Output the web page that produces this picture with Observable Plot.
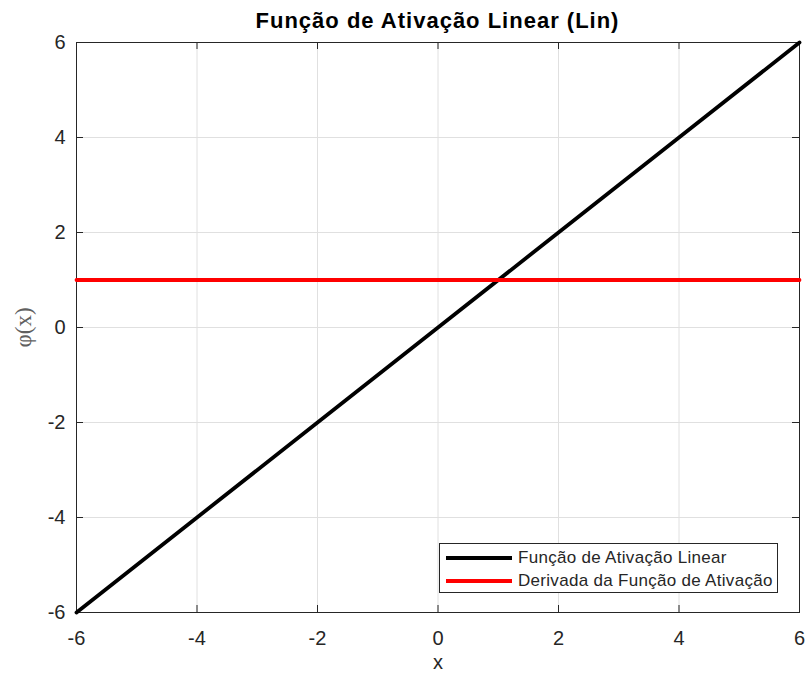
<!DOCTYPE html>
<html>
<head>
<meta charset="utf-8">
<script src="https://cdn.jsdelivr.net/npm/d3@7"></script>
<script src="https://cdn.jsdelivr.net/npm/@observablehq/plot@0.6"></script>
<style>
  html, body { margin: 0; padding: 0; background: #fff; }
  #wrap { position: relative; width: 808px; height: 677px; font-family: "Liberation Sans", Arial, sans-serif; }
  #title { position: absolute; left: 76px; width: 723px; top: 8px; text-align: center;
           font-size: 22px; font-weight: bold; letter-spacing: 1px; color: #000; line-height: 26px; }
  #legend { position: absolute; left: 439px; top: 543px; width: 339px; height: 50px;
            border: 1px solid #262626; background: #fff; box-sizing: border-box; }
  .row { position: absolute; left: 0; height: 22px; display: flex; align-items: center;
         font-size: 17px; letter-spacing: 0.3px; color: #262626; white-space: nowrap; }
  .swatch { width: 66px; height: 4px; margin-left: 6px; margin-right: 6px; }
</style>
</head>
<body>
<div id="wrap">
  <div id="title"></div>
  <div id="chart"></div>
  <div id="legend"></div>
</div>
<script>
// Activation function Lin(x) = x and its derivative, sampled on [-6, 6]
const xValues = [-6, -4, -2, 0, 2, 4, 6];
const linValues = [-6, -4, -2, 0, 2, 4, 6];
const derivValues = [1, 1, 1, 1, 1, 1, 1];
const tickValues = [-6, -4, -2, 0, 2, 4, 6];

const titleText = "Função de Ativação Linear (Lin)";
const xLabel = "x";
const yLabel = "φ(x)";
const seriesNames = ["Função de Ativação Linear", "Derivada da Função de Ativação"];
const seriesColors = ["#000000", "#ff0000"];

const lin = xValues.map((x, i) => ({x, y: linValues[i]}));
const deriv = xValues.map((x, i) => ({x, y: derivValues[i]}));

const W = 808, H = 677;
const margin = {top: 42, right: 9, bottom: 65, left: 76};
const innerW = W - margin.left - margin.right;
const innerH = H - margin.top - margin.bottom;
const tickLen = 7;
const ink = "#262626";
// plain hyphen-minus for negative tick labels
const fmt = d => String(d);

const chart = Plot.plot({
  width: W,
  height: H,
  marginTop: margin.top,
  marginRight: margin.right,
  marginBottom: margin.bottom,
  marginLeft: margin.left,
  style: {background: "#fff", fontFamily: "Liberation Sans, Arial, sans-serif", color: ink},
  x: {domain: [-6, 6]},
  y: {domain: [-6, 6]},
  marks: [
    Plot.gridX(tickValues, {stroke: "#e0e0e0", strokeOpacity: 1}),
    Plot.gridY(tickValues, {stroke: "#e0e0e0", strokeOpacity: 1}),
    // inward ticks on all four sides
    Plot.tickX(tickValues, {x: d => d, insetTop: innerH - tickLen, stroke: ink}),
    Plot.tickX(tickValues, {x: d => d, insetBottom: innerH - tickLen, stroke: ink}),
    Plot.tickY(tickValues, {y: d => d, insetRight: innerW - tickLen, stroke: ink}),
    Plot.tickY(tickValues, {y: d => d, insetLeft: innerW - tickLen, stroke: ink}),
    Plot.axisX(tickValues, {tickSize: 0, tickPadding: 18, fontSize: 20, fill: ink, label: null, tickFormat: fmt}),
    Plot.axisY(tickValues, {tickSize: 0, tickPadding: 11, fontSize: 20, fill: ink, label: null, tickFormat: fmt}),
    Plot.frame({stroke: ink, strokeWidth: 1}),
    Plot.line(lin, {x: "x", y: "y", stroke: seriesColors[0], strokeWidth: 3.8}),
    Plot.line(deriv, {x: "x", y: "y", stroke: seriesColors[1], strokeWidth: 3.8}),
    Plot.text([xLabel], {frameAnchor: "bottom", dy: 56, fontSize: 20, fill: ink}),
    Plot.text([yLabel], {frameAnchor: "left", textAnchor: "middle", dx: -53, rotate: -90, fontSize: 23,
                         fontFamily: "Liberation Serif, DejaVu Serif, serif", fill: "#606060"})
  ]
});
document.getElementById("chart").appendChild(chart);

document.getElementById("title").textContent = titleText;

const legend = document.getElementById("legend");
seriesNames.forEach((name, i) => {
  const row = document.createElement("div");
  row.className = "row";
  row.style.top = (3 + i * 23) + "px";
  const sw = document.createElement("div");
  sw.className = "swatch";
  sw.style.background = seriesColors[i];
  const label = document.createElement("span");
  label.textContent = name;
  row.appendChild(sw);
  row.appendChild(label);
  legend.appendChild(row);
});
</script>
</body>
</html>
